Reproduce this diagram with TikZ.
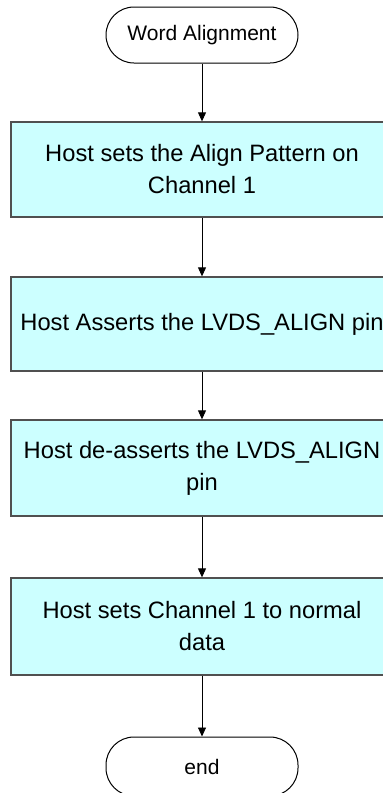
\documentclass[tikz,border=0pt]{standalone}
\usepackage{fontspec}
\setmainfont{Liberation Sans}
\usetikzlibrary{arrows.meta}
\definecolor{boxfill}{HTML}{CCFFFF}
\definecolor{boxline}{HTML}{505050}
\begin{document}
\begin{tikzpicture}[x=1pt,y=-1pt,
  term/.style={draw=black, line width=1pt, rounded corners=28pt, minimum width=192pt, minimum height=56pt, inner sep=0pt, font=\fontsize{21}{25}\selectfont},
  procbox/.style={draw=boxline, line width=1.3pt, fill=boxfill, minimum width=382pt, inner sep=0pt, align=center, font=\fontsize{23.7}{32}\selectfont},
  flow/.style={draw=black, line width=0.9pt, -{Triangle[length=9pt,width=8pt]}}]
\useasboundingbox (0,0) rectangle (383,793);
\node[term] (start) at (202,35) {Word Alignment};
\node[procbox, minimum height=95pt] (b1) at (202,169.5) {Host sets the Align Pattern on\\Channel 1};
\node[procbox, minimum height=94pt] (b2) at (202,324) {Host Asserts the LVDS\_ALIGN pin};
\node[procbox, minimum height=96pt] (b3) at (202,468) {Host de-asserts the LVDS\_ALIGN\\pin};
\node[procbox, minimum height=97pt] (b4) at (202,626.5) {Host sets Channel 1 to normal\\data};
\node[term, minimum height=59pt] (end) at (202,766.5) {end};
\draw[flow] (start) -- (b1);
\draw[flow] (b1) -- (b2);
\draw[flow] (b2) -- (b3);
\draw[flow] (b3) -- (b4);
\draw[flow] (b4) -- (end);
\end{tikzpicture}
\end{document}
